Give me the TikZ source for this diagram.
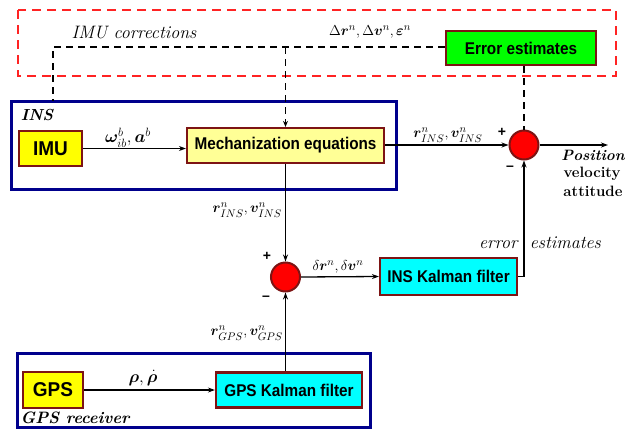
\documentclass[tikz,border=0pt]{standalone}
\usepackage{amsmath}
\usepackage{bm}
\usepackage{fontspec}
\setsansfont{Liberation Sans}
\usetikzlibrary{arrows.meta,calc}
\definecolor{navy}{RGB}{0,0,140}
\definecolor{maroon}{RGB}{125,20,20}
\definecolor{lyellow}{RGB}{255,255,150}
\definecolor{yel}{RGB}{255,255,0}
\definecolor{cya}{RGB}{0,255,255}
\definecolor{dred}{RGB}{255,35,35}
\definecolor{rd}{RGB}{255,0,0}
\definecolor{gr}{RGB}{0,255,0}
\newcommand{\nrw}[1]{\scalebox{0.9}[1]{#1}}
\begin{document}
\begin{tikzpicture}[x=1pt,y=-1pt,
  blk/.style={draw=maroon, line width=2.2pt, inner sep=0pt, font=\sffamily\bfseries\fontsize{17}{17}\selectfont},
  sumc/.style={circle, draw=maroon, line width=2pt, fill=rd, minimum size=29pt, inner sep=0pt},
  arr/.style={-{Stealth[length=7pt,width=5pt]}, line width=1.3pt},
  dsh/.style={dash pattern=on 7pt off 5pt, line width=1.8pt},
  grp/.style={draw=navy, line width=3pt},
  lbl/.style={font=\fontsize{15.5}{15.5}\selectfont, inner sep=1pt},
  sgn/.style={font=\sffamily\bfseries\fontsize{14}{14}\selectfont, inner sep=0pt},
  itx/.style={font=\itshape\fontsize{18}{18}\selectfont, inner sep=1pt},
  btx/.style={font=\bfseries\fontsize{15}{15}\selectfont, inner sep=0pt},
  bitx/.style={font=\bfseries\itshape\fontsize{16}{16}\selectfont, inner sep=0pt}
]
\useasboundingbox (0,0) rectangle (625,429);
% group boxes
\draw[dred, line width=2.4pt, dash pattern=on 9pt off 6pt] (18,10) rectangle (616,76);
\draw[grp] (11,101) rectangle (396,189);
\draw[grp] (17,353) rectangle (370,427);
% blocks
\node[blk, fill=yel, minimum width=63pt, minimum height=35pt, font=\sffamily\bfseries\fontsize{20}{20}\selectfont] (imu) at (50.5,148.5) {\scalebox{0.95}[1]{IMU}};
\node[blk, fill=lyellow, minimum width=197pt, minimum height=35pt] (mech) at (285.5,145.5) {\nrw{Mechanization equations}};
\node[blk, fill=gr, minimum width=150pt, minimum height=34pt] (errest) at (521,48) {\nrw{Error estimates}};
\node[blk, fill=cya, minimum width=137pt, minimum height=37pt] (inskf) at (448.5,276.5) {\nrw{INS Kalman filter}};
\node[blk, fill=yel, minimum width=60pt, minimum height=36pt, font=\sffamily\bfseries\fontsize{20}{20}\selectfont] (gps) at (53,390) {\scalebox{0.95}[1]{GPS}};
\node[blk, fill=cya, minimum width=146pt, minimum height=35pt] (gpskf) at (289,390) {\nrw{GPS Kalman filter}};
\node[sumc] (s1) at (524,145) {};
\node[sumc] (s2) at (285.5,277) {};
% coordinates
\coordinate (cL) at (53,47);
\coordinate (cLb) at (53,101);
\coordinate (cM) at (285.5,47);
\coordinate (out) at (608,145);
% dashed feedback
\draw[dsh] (errest.west |- cL) -- (cL) -- (cLb);
\draw[dsh, -{Stealth[length=6pt,width=5pt]}] (cM) -- (mech.north);
\draw[dsh] (s1 |- errest.south) -- (s1.north);
% solid connectors
\draw[arr] (imu.east) -- (imu.east -| mech.west);
\draw[arr] (mech.east |- s1) -- (s1.west);
\draw[arr] (s1.east) -- (out);
\draw[arr] (mech.south) -- (s2.north);
\draw[arr] (s2.east) -- (inskf.west);
\draw[arr] (inskf.east) -| (s1.south);
\draw[arr] (gps.east) -- (gpskf.west);
\draw[arr] (gpskf.north -| s2) -- (s2.south);
% labels
\node[itx] (l1) at (134,33) {IMU corrections};
\node[lbl] (l2) at (370,32) {$\Delta\bm{r}^{n},\Delta\bm{v}^{n},\bm{\varepsilon}^{n}$};
\node[lbl, font=\fontsize{16.5}{16.5}\selectfont] (l3) at (128,138) {$\bm{\omega}^{b}_{ib},\bm{a}^{b}$};
\node[lbl] (l4) at (448,135) {$\bm{r}^{n}_{INS},\bm{v}^{n}_{INS}$};
\node[lbl, anchor=east] (l5) at (283,210) {$\bm{r}^{n}_{INS},\bm{v}^{n}_{INS}$};
\node[lbl] (l6) at (338,267) {$\delta\bm{r}^{n},\delta\bm{v}^{n}$};
\node[lbl, anchor=east] (l7) at (284,333) {$\bm{r}^{n}_{GPS},\bm{v}^{n}_{GPS}$};
\node[lbl, font=\fontsize{18}{18}\selectfont] (l8) at (143,378) {$\bm{\rho},\dot{\bm{\rho}}$};
\node[itx] (l9) at (540,243) {error\,\, estimates};
\node[sgn] (p1) at (502,132) {+};
\node[sgn] (m1) at (510,168) {\textendash};
\node[sgn] (p2) at (267,256) {+};
\node[sgn] (m2) at (266,298) {\textendash};
\node[bitx, font=\bfseries\itshape\fontsize{15}{15}\selectfont] (pos) at (593,155) {Position};
\node[btx] (vel) at (592,174) {velocity};
\node[btx] (att) at (593,191) {attitude};
\node[bitx] (ins) at (37,115) {INS};
\node[bitx, font=\bfseries\itshape\fontsize{16.5}{16.5}\selectfont] (gpsr) at (75,418) {GPS receiver};
\end{tikzpicture}
\end{document}
